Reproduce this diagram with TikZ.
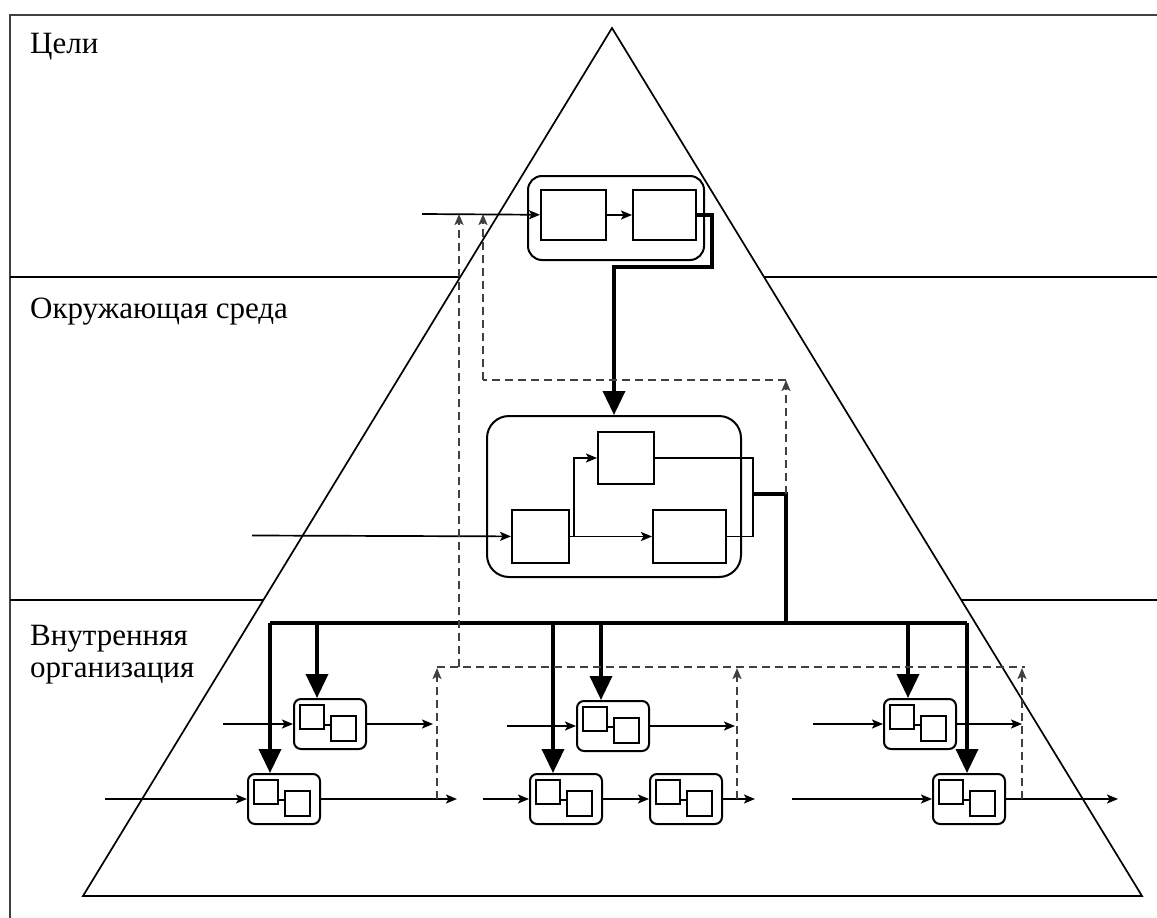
\documentclass[tikz,border=0pt]{standalone}
\usepackage{fontspec}
\setmainfont{Liberation Serif}
\usetikzlibrary{arrows.meta,calc}
\tikzset{
    frame line/.style={line width=1.4pt,black!75},
    edge line/.style={line width=1.7pt},
    flow/.style={line width=1.7pt,-{Stealth[length=11pt,width=9pt,inset=2.5pt]}},
    feedback/.style={line width=1.9pt,black!75,dash pattern=on 8pt off 5pt},
    feedback arrow/.style={feedback,-{Stealth[length=11pt,width=9pt,inset=2.5pt]}},
    command/.style={line width=3.6pt},
    command arrow/.style={line width=3.6pt,-{Triangle[length=24pt,width=22pt]}},
    layer label/.style={anchor=north west,inner sep=0pt,align=left,font=\fontsize{31}{32}\selectfont},
    box/.style={draw,line width=2pt,inner sep=0pt,anchor=north west},
    unit/.pic={
        \node[box,rounded corners=7pt,minimum width=72pt,minimum height=50pt] (-frame) at (0,0) {};
        \node[box,minimum size=24pt] (-left) at (6,6) {};
        \node[box,minimum size=25pt] (-right) at (37,17) {};
        \coordinate (-mid) at ([yshift=-8pt]-left.east);
        \draw[line width=1.6pt] (-mid) -- (-mid -| -right.west);
    }
}

\begin{document}
\begin{tikzpicture}[x=1pt,y=-1pt]
    \useasboundingbox (0,0) rectangle (1157,918);
    \coordinate (apex) at (612,28);
    \coordinate (base left) at (83,896);
    \coordinate (base right) at (1142,896);
    \draw[frame line] (10,918) -- (10,15) -- (1157,15);
    \draw[edge line] (apex) -- (base right) -- (base left) -- cycle;
    \foreach \y in {277,600}{
        \draw[edge line] (10,\y) -- ($(apex)!{(\y-28)/868}!(base left)$);
        \draw[edge line] ($(apex)!{(\y-28)/868}!(base right)$) -- (1157,\y);
    }
    \node[layer label] (goals) at (30,33) {Цели};
    \node[layer label] (environment) at (30,298) {Окружающая среда};
    \node[layer label] (internal) at (30,625) {Внутренняя\\организация};

    % goals
    \node[box,rounded corners=14pt,minimum width=176pt,minimum height=84pt] (goal) at (527,175) {};
    \node[box,minimum width=65pt,minimum height=50pt] (goal a) at (540,189) {};
    \node[box,minimum width=63pt,minimum height=50pt] (goal b) at (632,189) {};
    \coordinate (goal in) at (422,214);
    \draw[flow] (goal in) -- (goal a);
    \draw[flow] (goal a) -- (goal b);

    % environment
    \node[box,rounded corners=22pt,minimum width=254pt,minimum height=161pt] (env) at (486,415) {};
    \node[box,minimum width=57pt,minimum height=53pt] (env a) at (511,509) {};
    \node[box,minimum width=56pt,minimum height=52pt] (env b) at (597,431) {};
    \node[box,minimum width=73pt,minimum height=53pt] (env c) at (652,509) {};
    \coordinate (env in) at (252,535.5);
    \coordinate (env fork) at (574,535.5);
    \coordinate (env join) at (753,494);
    \coordinate (env drop) at (786,494);
    \draw[flow] (env in) -- (env a);
    \draw[flow] (env a) -- (env c);
    \draw[flow] (env fork) |- (env b);
    \draw[line width=1.7pt] (env b) -| (env join) |- (env c);
    \draw[command,-{Triangle[length=24pt,width=22pt]}] (goal b) -| (712,267) -| (env);

    % internal organisation
    \pic (L1) at (293,698) {unit};
    \pic (L2) at (247,773) {unit};
    \pic (M1) at (576,700) {unit};
    \pic (M2) at (529,773) {unit};
    \pic (M3) at (649,773) {unit};
    \pic (R1) at (883,698) {unit};
    \pic (R2) at (932,773) {unit};

    \coordinate (bus left) at (270,623);
    \coordinate (bus right) at (967,623);
    \draw[command] (env join) -- (env drop) -- (env drop |- bus left);
    \draw[command] (bus left) -- (bus right);
    \foreach \x/\u in {270/L2,317/L1,553/M2,601/M1,908/R1,967/R2}
        \draw[command arrow] (\x,623) -- (\x,623 |- \u-frame.north);

    \foreach \u/\a in {L1/223,L2/105,M1/507,M2/483,R1/813,R2/792}{
        \coordinate (\u in) at (\a,0 |- \u-frame.west);
        \draw[flow] (\u in) -- (\u-frame);
    }
    \foreach \u/\b in {L1/433,L2/457,M1/735,M3/755,R1/1022,R2/1118}{
        \coordinate (\u out) at (\b,0 |- \u-frame.east);
        \draw[flow] (\u-frame) -- (\u out);
    }
    \draw[flow] (M2-frame) -- (M3-frame);

    % feedback
    \coordinate (fb top) at (483,380);
    \coordinate (fb low) at (437,667);
    \coordinate (fb main) at (459,667);
    \draw[feedback] (fb low) -- (1025,667);
    \draw[feedback arrow] (env drop) -- (env drop |- fb top);
    \draw[feedback] (env drop |- fb top) -- (fb top);
    \draw[feedback arrow] (fb top) -- (fb top |- goal in);
    \draw[feedback arrow] (fb main) -- (fb main |- goal in);
    \foreach \x/\u in {437/L2,737/M3,1022/R2}
        \draw[feedback arrow] (\x,0 |- \u-frame.east) -- (\x,668);
\end{tikzpicture}
\end{document}
